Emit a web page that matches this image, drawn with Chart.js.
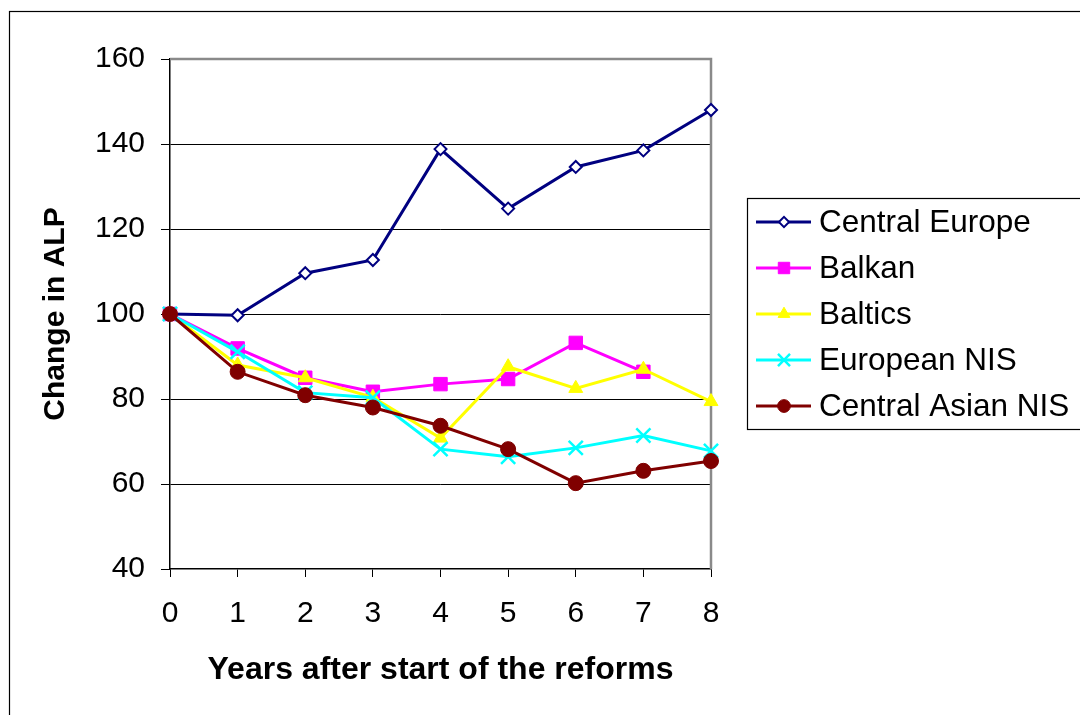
<!DOCTYPE html>
<html>
<head>
<meta charset="utf-8">
<script src="https://cdn.jsdelivr.net/npm/chart.js@4/dist/chart.umd.min.js"></script>
<style>
  html, body { margin: 0; padding: 0; background: #fff; }
  #wrap { width: 1080px; height: 715px; }
</style>
</head>
<body>
<div id="wrap"><canvas id="c" width="1080" height="715"></canvas></div>
<script>
const years = ['0', '1', '2', '3', '4', '5', '6', '7', '8'];
const seriesNames = ['Central Europe', 'Balkan', 'Baltics', 'European NIS', 'Central Asian NIS'];
const centralEurope = [100, 99.7, 109.6, 112.7, 138.8, 124.8, 134.6, 138.5, 148.0];
const balkan = [100, 91.9, 85.0, 81.7, 83.5, 84.7, 93.2, 86.4];
const baltics = [100, 88.0, 85.0, 80.4, 70.8, 87.6, 82.5, 87.0, 79.4];
const europeanNIS = [100, 91.1, 81.5, 80.3, 68.2, 66.4, 68.5, 71.4, 67.8];
const centralAsianNIS = [100, 86.4, 80.9, 78.0, 73.7, 68.2, 60.2, 63.1, 65.4];
const yTicks = [40, 60, 80, 100, 120, 140, 160];
const xTitle = 'Years after start of the reforms';
const yTitle = 'Change in ALP';

const FONT = "'Liberation Sans', Arial, sans-serif";

const styles = [
  { color: '#000080', fill: '#ffffff', pointStyle: 'rectRot', radius: 6, pbw: 2 },
  { color: '#FF00FF', fill: '#FF00FF', pointStyle: 'rect', radius: 9.5, pbw: 1 },
  { color: '#FFFF00', fill: '#FFFF00', pointStyle: 'triangle', radius: 8, pbw: 1 },
  { color: '#00FFFF', fill: '#00FFFF', pointStyle: 'crossRot', radius: 10, pbw: 2.5 },
  { color: '#800000', fill: '#800000', pointStyle: 'circle', radius: 7.5, pbw: 1 }
];
const seriesData = [centralEurope, balkan, baltics, europeanNIS, centralAsianNIS];

const datasets = seriesData.map((d, i) => ({
  label: seriesNames[i],
  data: d,
  borderColor: styles[i].color,
  backgroundColor: styles[i].fill,
  borderWidth: 3,
  pointStyle: styles[i].pointStyle,
  pointRadius: styles[i].radius,
  pointHoverRadius: styles[i].radius,
  pointBorderWidth: styles[i].pbw,
  pointBorderColor: styles[i].color,
  pointBackgroundColor: styles[i].fill,
  tension: 0,
  fill: false,
  order: 4 - i
}));

const bgPlugin = {
  id: 'bg',
  beforeDraw(chart) {
    const ctx = chart.ctx;
    ctx.save();
    ctx.fillStyle = '#fff';
    ctx.fillRect(0, 0, chart.width, chart.height);
    ctx.strokeStyle = '#000';
    ctx.lineWidth = 1.2;
    ctx.strokeRect(9.5, 11.5, 1200, 1000);
    ctx.restore();
  },
  beforeDatasetsDraw(chart) {
    const { ctx, chartArea: a } = chart;
    ctx.save();
    ctx.strokeStyle = '#8a8a8a';
    ctx.lineWidth = 2.5;
    ctx.beginPath();
    ctx.moveTo(a.left, a.top);
    ctx.lineTo(a.right, a.top);
    ctx.lineTo(a.right, a.bottom);
    ctx.stroke();
    ctx.restore();
  },
  afterDraw(chart) {
    const ctx = chart.ctx;
    const bx = 747.5, by = 198.5, bw = 400, bh = 231;
    ctx.save();
    ctx.fillStyle = '#fff';
    ctx.fillRect(bx, by, bw, bh);
    ctx.strokeStyle = '#000';
    ctx.lineWidth = 1.2;
    ctx.strokeRect(bx, by, bw, bh);
    const rows = [222, 268, 314, 360, 406];
    seriesNames.forEach((name, i) => {
      const y = rows[i];
      const s = styles[i];
      ctx.strokeStyle = s.color;
      ctx.lineWidth = 3;
      ctx.beginPath();
      ctx.moveTo(756, y);
      ctx.lineTo(811, y);
      ctx.stroke();
      ctx.fillStyle = s.fill;
      ctx.strokeStyle = s.color;
      ctx.lineWidth = s.pbw;
      Chart.helpers.drawPoint(ctx, { pointStyle: s.pointStyle, rotation: 0, radius: s.radius * 0.85, borderWidth: s.pbw }, 784, y);
      ctx.fillStyle = '#000';
      ctx.font = '31.5px ' + FONT;
      ctx.textAlign = 'left';
      ctx.textBaseline = 'middle';
      ctx.fillText(name, 819, y + 1);
    });
    ctx.restore();
  }
};

new Chart(document.getElementById('c'), {
  type: 'line',
  data: { labels: years, datasets },
  plugins: [bgPlugin],
  options: {
    responsive: false,
    animation: false,
    devicePixelRatio: 1,
    layout: { padding: { left: 0, top: 59, right: 369, bottom: 0 } },
    plugins: { legend: { display: false }, tooltip: { enabled: false } },
    scales: {
      x: {
        type: 'category',
        offset: false,
        grid: { drawOnChartArea: false, drawTicks: true, tickLength: 8, tickColor: '#000', tickWidth: 1 },
        border: { display: true, color: '#000', width: 1.5 },
        ticks: { color: '#000', font: { family: FONT, size: 30 }, padding: 19, maxRotation: 0, autoSkip: false },
        title: { display: true, text: xTitle, color: '#000', font: { family: FONT, size: 32, weight: 'bold' }, padding: { top: 0, bottom: 26 } },
        afterFit(scale) { scale.height = 146; }
      },
      y: {
        min: 40, max: 160,
        afterBuildTicks(scale) { scale.ticks = yTicks.map(v => ({ value: v })); },
        grid: {
          color: (c) => (c.tick && (c.tick.value === 160 || c.tick.value === 40)) ? 'rgba(0,0,0,0)' : '#000',
          lineWidth: 1,
          tickLength: 9, tickColor: '#000', tickWidth: 1
        },
        border: { display: true, color: '#000', width: 1.5 },
        ticks: { color: '#000', font: { family: FONT, size: 30 }, padding: 16 },
        title: { display: true, text: yTitle, color: '#000', font: { family: FONT, size: 30, weight: 'bold' }, padding: { top: 38, bottom: 0 } },
        afterFit(scale) { scale.width = 170; }
      }
    }
  }
});
</script>
</body>
</html>
